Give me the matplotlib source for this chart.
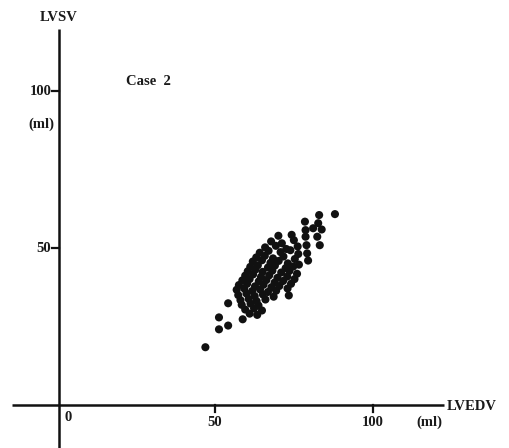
import matplotlib
matplotlib.use('Agg')
import matplotlib.pyplot as plt

# LVEDV (x) and LVSV (y) values, ml
lvedv = [70.1, 74.3,
         67.8, 71.2, 75.0,
         65.9, 69.3, 72.6, 76.2,
         64.2, 67.0, 70.8, 73.9, 76.4,
         63.1, 65.8, 68.4, 71.7, 75.3,
         62.0, 64.9, 67.6, 70.2, 73.1, 76.6,
         61.2, 63.6, 66.8, 69.0, 72.4, 74.8,
         60.4, 62.8, 65.1, 68.2, 71.0, 73.6, 76.0,
         59.6, 62.1, 64.6, 67.2, 69.8, 72.9, 75.2,
         58.7, 61.0, 63.9, 66.3, 68.9, 71.6, 74.1,
         57.6, 60.2, 62.7, 65.4, 67.9, 70.4, 73.0,
         56.9, 59.3, 61.8, 64.3, 66.8, 69.4,
         57.4, 60.0, 62.6, 65.2, 68.6, 73.4,
         58.1, 60.7, 63.2, 66.0,
         58.5, 61.3, 63.8,
         59.6, 62.4, 64.9,
         61.0, 63.4,
         # outliers
         47.0, 51.3, 51.3, 54.2, 54.2, 58.8,
         88.0, 83.0, 78.5, 82.7, 83.8, 82.4, 83.2, 81.1,
         78.7, 78.7, 79.0, 79.2, 79.5]
lvsv = [54.0, 54.3,
        52.2, 51.6, 52.6,
        50.3, 50.8, 49.8, 50.6,
        48.6, 49.2, 48.8, 49.4, 48.2,
        47.1, 47.6, 46.8, 47.4, 46.6,
        45.8, 46.2, 45.4, 46.0, 45.2, 44.8,
        44.1, 44.6, 43.9, 44.5, 43.7, 44.2,
        42.7, 43.2, 42.5, 42.9, 42.3, 42.8, 41.9,
        41.3, 41.7, 40.9, 41.4, 40.6, 41.0, 40.2,
        39.8, 40.2, 39.5, 39.9, 39.1, 39.6, 38.7,
        38.3, 38.7, 37.9, 38.4, 37.6, 38.0, 37.2,
        36.8, 37.2, 36.4, 36.9, 36.1, 36.5,
        35.1, 35.6, 34.8, 35.3, 34.6, 35.0,
        33.5, 33.9, 33.2, 33.7,
        32.0, 32.4, 31.8,
        30.5, 30.9, 30.2,
        29.2, 28.8,
        18.5, 24.2, 28.0, 25.4, 32.5, 27.4,
        60.9, 60.6, 58.5, 58.0, 56.0, 53.7, 51.0, 56.4,
        55.8, 53.7, 51.0, 48.4, 46.1]

xticks = [50, 100]
yticks = [50, 100]

fnt = dict(family='Liberation Serif', fontweight='bold', fontsize=10.5, color='#1a1a1a')

fig = plt.figure(figsize=(5.10, 4.48), dpi=100)
ax = fig.add_axes([0, 0, 1, 1])
ax.set_xlim(-18.0, 143.4)
ax.set_ylim(-13.6, 129.1)
ax.axis('off')

# hand-drawn style axes
ax.plot([-14.2, 122.5], [0, 0], color='#111111', lw=1.8, solid_capstyle='butt')
ax.plot([0.6, 0.6], [-14, 120], color='#111111', lw=1.8, solid_capstyle='butt')
for t in xticks:
    ax.plot([t, t], [0, -2.2], color='#111111', lw=1.6)
for t in yticks:
    ax.plot([0.6, -1.6], [t, t], color='#111111', lw=1.6)

ax.scatter(lvedv, lvsv, s=34, color='#111111', edgecolors='none', zorder=3)

# labels
ax.text(2.5, -3.8, '0', ha='left', va='center', **fnt)
for t in xticks:
    ax.text(t, -5.5, str(t), ha='center', va='center', **fnt)
ax.text(118, -5.5, '(ml)', ha='center', va='center', **fnt)
ax.text(123.5, -0.5, 'LVEDV', ha='left', va='center', **fnt)
for t in yticks:
    ax.text(-1.8, t, str(t), ha='right', va='center', **fnt)
ax.text(-5.0, 89.5, '(ml)', ha='center', va='center', **fnt)
ax.text(0.6, 123.5, 'LVSV', ha='center', va='center', **fnt)
ax.text(21.8, 103, 'Case  2', ha='left', va='center', **fnt)

fig.savefig('out.png', dpi=100)
